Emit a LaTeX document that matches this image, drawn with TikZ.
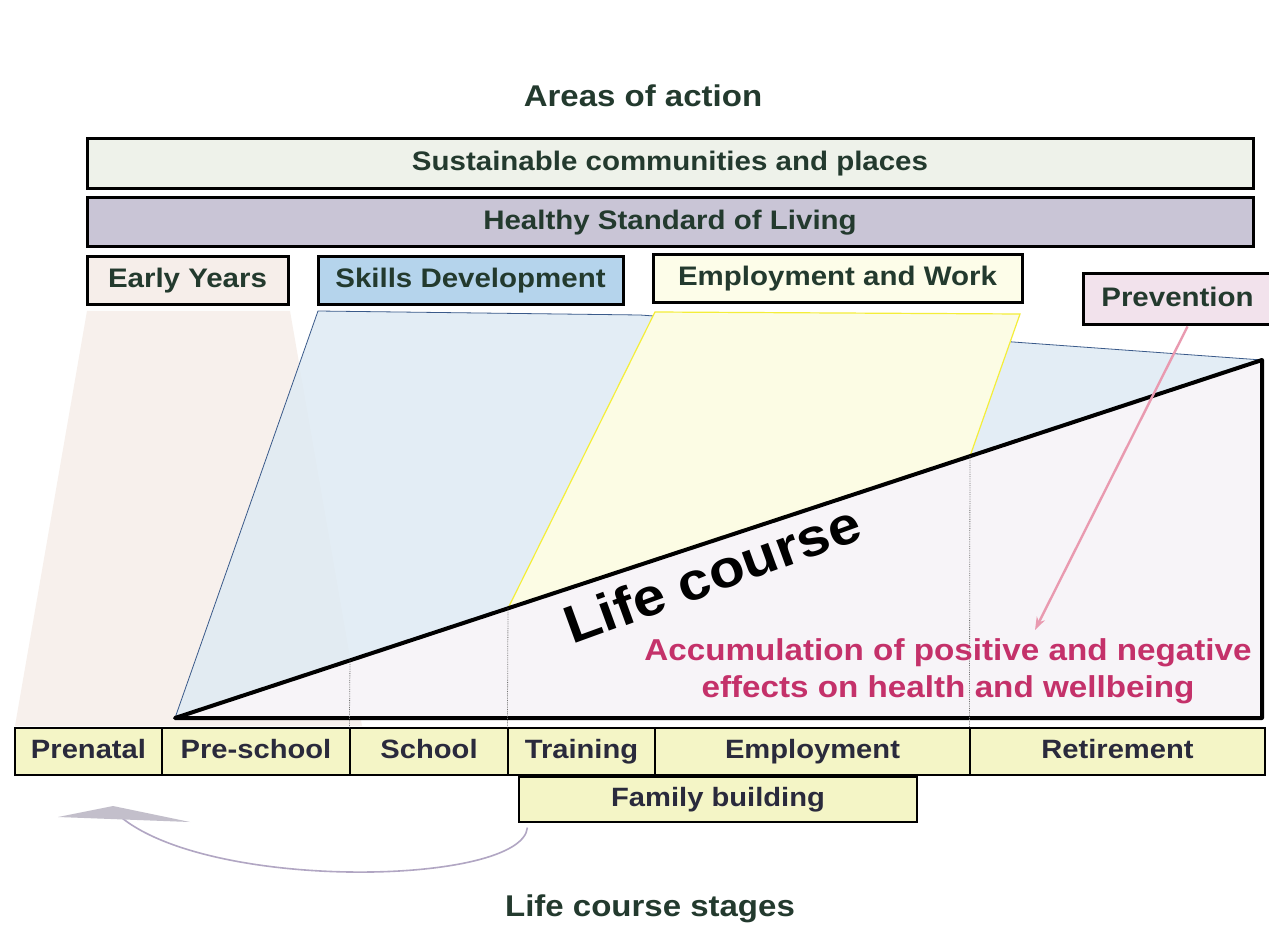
\documentclass[tikz,border=0pt]{standalone}
\usepackage{fontspec}
\usepackage{tikz}
\usetikzlibrary{arrows.meta}
\newfontfamily\lbl{Liberation Sans}[FakeStretch=1.1]
\definecolor{txtgreen}{HTML}{233A2E}
\definecolor{stagetxt}{HTML}{2A2A3C}
\definecolor{sustfill}{HTML}{EEF2EA}
\definecolor{healthyfill}{HTML}{C9C5D6}
\definecolor{earlyfill}{HTML}{F6EEEA}
\definecolor{skillsfill}{HTML}{B5D4EC}
\definecolor{workfill}{HTML}{FDFDE9}
\definecolor{prevfill}{HTML}{F2E2EC}
\definecolor{stagefill}{HTML}{F4F5C6}
\definecolor{earlyreg}{HTML}{F7F0EC}
\definecolor{skillsreg}{HTML}{DFEBF4}
\definecolor{skillsline}{HTML}{3A5A8A}
\definecolor{workreg}{HTML}{FCFCE4}
\definecolor{workline}{HTML}{F4EE3A}
\definecolor{coursefill}{HTML}{F7F4F8}
\definecolor{prevline}{HTML}{E99AB0}
\definecolor{accumtxt}{HTML}{C4316A}
\definecolor{loopline}{HTML}{B1A6C3}
\definecolor{loophead}{HTML}{C3BFCB}

\begin{document}
\begin{tikzpicture}[x=1pt, y=-1pt,
  area/.style={draw=black, line width=3pt, inner sep=0pt, text height=19pt, text depth=5pt, text=txtgreen, font=\lbl\bfseries\fontsize{26.8}{30}\selectfont},
  stage/.style={draw=black, line width=1.2pt, fill=stagefill, inner sep=0pt, minimum height=47pt, text height=19pt, text depth=5pt, text=stagetxt, font=\lbl\bfseries\fontsize{26.5}{30}\selectfont},
  dotline/.style={black!55, densely dotted, line width=0.8pt}]

\fill[white] (0,0) rectangle (1269,925);
\useasboundingbox (0,0) rectangle (1269,925);

\node[text=txtgreen, font=\lbl\bfseries\fontsize{30}{34}\selectfont] (title) at (643,96) {Areas of action};

\node[area, fill=sustfill, minimum width=1166pt, minimum height=50pt] (sust) at (670,164) {Sustainable communities and places};
\node[area, fill=healthyfill, minimum width=1166pt, minimum height=49pt] (healthy) at (670,222.5) {Healthy Standard of Living};
\node[area, fill=earlyfill, minimum width=201pt, minimum height=48pt] (early) at (187.5,281) {Early Years};
\node[area, fill=skillsfill, minimum width=305pt, minimum height=48pt] (skills) at (470.5,281) {Skills Development};
\node[area, fill=workfill, minimum width=369pt, minimum height=48pt] (work) at (837.5,279) {Employment and Work};
\node[area, fill=prevfill, minimum width=189pt, minimum height=51pt] (prev) at (1177.5,299.5) {Prevention};

\coordinate (apex) at (175,718);
\coordinate (peak) at (1262,360);
\coordinate (base) at (1262,718);

\fill[earlyreg] (87,311) -- (290,311) -- (362,726) -- (15,726) -- cycle;
\fill[skillsreg, opacity=0.85] (318,311) -- (640,315) -- (peak) -- (apex) -- cycle;
\draw[skillsline, line width=0.8pt] (apex) -- (318,311) -- (640,315) -- (peak);
\draw[workline, fill=workreg, line width=1.2pt] (655,312) -- (1020,314) -- (970,456.2) -- (508,608.3) -- cycle;
\draw[black, fill=coursefill, line width=4pt, line join=round] (apex) -- (peak) -- (base) -- cycle;

\node[stage, minimum width=147pt] (prenatal) at (88.5,751.5) {Prenatal};
\node[stage, minimum width=188pt] (preschool) at (256,751.5) {Pre-school};
\node[stage, minimum width=158pt] (school) at (429,751.5) {School};
\node[stage, minimum width=147pt] (training) at (581.5,751.5) {Training};
\node[stage, minimum width=315pt] (employ) at (812.5,751.5) {Employment};
\node[stage, minimum width=295pt] (retire) at (1117.5,751.5) {Retirement};
\node[stage, minimum width=398pt, minimum height=45pt] (family) at (718,799.5) {Family building};

\draw[dotline] (350,660.4) -- (school.north west);
\draw[dotline] (508,608.3) -- (training.north west);
\draw[dotline] (970,456.2) -- (retire.north west);

\node[rotate=20, inner sep=0pt, font=\lbl\bfseries\fontsize{53}{60}\selectfont] (life) at (712,574) {Life course};

\node[align=center, text=accumtxt, font=\lbl\bfseries\fontsize{30.2}{37}\selectfont] (accum) at (948,671) {Accumulation of positive and negative\\effects on health and wellbeing};

\coordinate (acctip) at (1035,630);
\draw[prevline, line width=2.4pt, -{Stealth[length=13pt,width=9pt]}] ([xshift=10pt]prev.south) -- (acctip);

\coordinate (loopend) at (122,818);
\draw[loopline, line width=1.6pt] ([xshift=9pt,yshift=-5pt]family.south west) .. controls (522,885) and (215,892) .. (loopend);
\fill[loophead] (58,817) -- (113,806) -- (190,822) -- cycle;

\node[text=txtgreen, font=\lbl\bfseries\fontsize{30}{34}\selectfont] (stages) at (650,909) {Life course stages};

\end{tikzpicture}
\end{document}
